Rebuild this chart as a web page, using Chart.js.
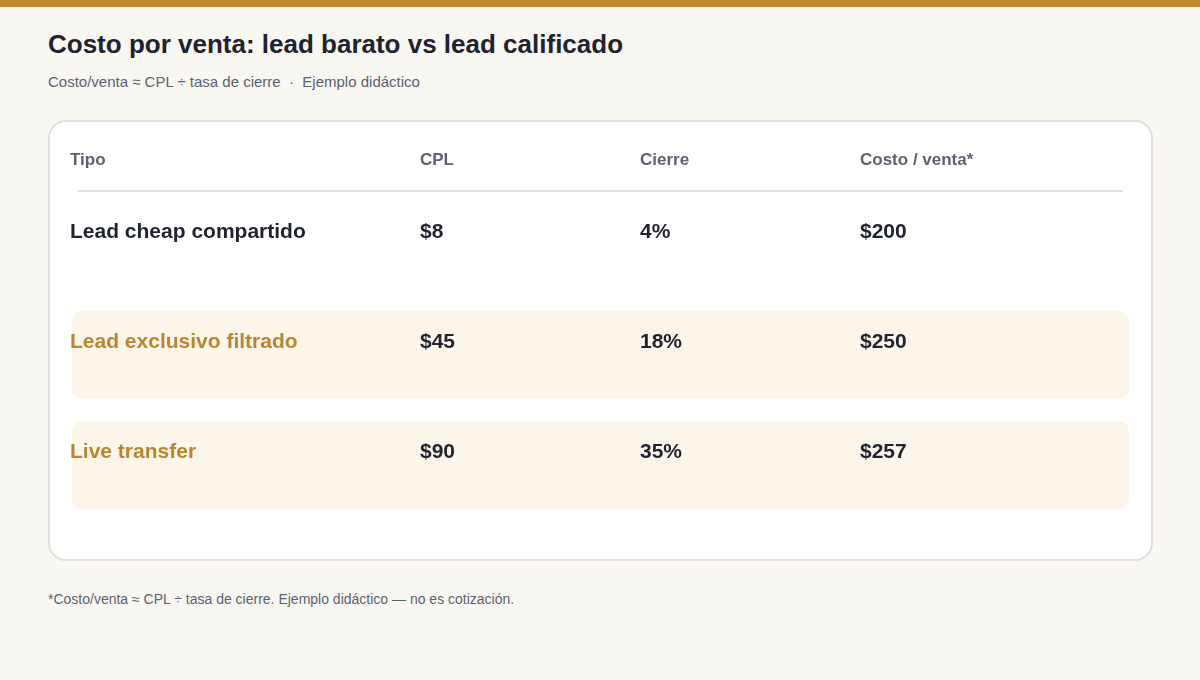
<!DOCTYPE html>
<html><head><meta charset="utf-8">
<script src="https://cdn.jsdelivr.net/npm/chart.js@4"></script>
<style>
html,body{margin:0;padding:0;background:#f8f7f2;width:1200px;height:680px;overflow:hidden;font-family:Arial,"Liberation Sans",Helvetica,sans-serif}
#bar{position:absolute;left:0;top:0;width:1200px;height:7px;background:#c08a2e}
h1{position:absolute;left:48px;top:29px;margin:0;font-size:26px;font-weight:bold;color:#1f2330}
#sub{position:absolute;left:48px;top:73px;font-size:15px;color:#5d6270}
#card{position:absolute;left:48px;top:120px;width:1105px;height:441px;background:#fff;border:2px solid #e2e0d8;border-radius:18px;box-sizing:border-box}
#foot{position:absolute;left:48px;top:591px;font-size:14px;color:#5d6270}
canvas{position:absolute;left:0;top:0}
</style></head><body>
<div id="bar"></div>
<h1>Costo por venta: lead barato vs lead calificado</h1>
<div id="sub">Costo/venta ≈ CPL ÷ tasa de cierre &nbsp;·&nbsp; Ejemplo didáctico</div>
<div id="card"><canvas id="c" width="1105" height="441"></canvas></div>
<div id="foot">*Costo/venta ≈ CPL ÷ tasa de cierre. Ejemplo didáctico — no es cotización.</div>
<script>
const columns = ["Tipo","CPL","Cierre","Costo / venta*"];
const tipos = ["Lead cheap compartido","Lead exclusivo filtrado","Live transfer"];
const cpl = ["$8","$45","$90"];
const cierre = ["4%","18%","35%"];
const costo = ["$200","$250","$257"];
const highlighted = [false,true,true];

const colX = [20,370,590,810];
const headerY = 38, sepY = 69, rowY0 = 110, rowStep = 110;
const FONT = 'Arial, "Liberation Sans", Helvetica, sans-serif';

function rr(ctx,x,y,w,h,r){ctx.beginPath();ctx.moveTo(x+r,y);ctx.arcTo(x+w,y,x+w,y+h,r);ctx.arcTo(x+w,y+h,x,y+h,r);ctx.arcTo(x,y+h,x,y,r);ctx.arcTo(x,y,x+w,y,r);ctx.closePath();}

const tablePlugin = {
  id:'table',
  afterDraw(chart){
    const ctx = chart.ctx;
    ctx.save();
    ctx.textBaseline='middle';ctx.textAlign='left';
    ctx.font='bold 17px '+FONT;
    ctx.fillStyle='#5d6270';
    columns.forEach((c,i)=>ctx.fillText(c,colX[i],headerY));
    ctx.strokeStyle='#e2e0d8';ctx.lineWidth=2;
    ctx.beginPath();ctx.moveTo(28,sepY);ctx.lineTo(1073,sepY);ctx.stroke();
    tipos.forEach((t,r)=>{
      const y = rowY0 + r*rowStep;
      if(highlighted[r]){ctx.fillStyle='#fcf5e9';rr(ctx,22,y-31,1057,88,10);ctx.fill();}
      ctx.font='bold 21px '+FONT;
      ctx.fillStyle=highlighted[r]?'#b8862e':'#1f2330';
      ctx.fillText(t,colX[0],y);
      ctx.fillStyle='#1f2330';
      ctx.fillText(cpl[r],colX[1],y);
      ctx.fillText(cierre[r],colX[2],y);
      ctx.fillText(costo[r],colX[3],y);
    });
    ctx.restore();
  }
};
new Chart(document.getElementById('c'),{
  type:'bar',
  data:{labels:tipos,datasets:[{data:[0,0,0]}]},
  options:{responsive:false,animation:false,events:[],
    plugins:{legend:{display:false},tooltip:{enabled:false}},
    scales:{x:{display:false},y:{display:false}}},
  plugins:[tablePlugin]
});
</script>
</body></html>
